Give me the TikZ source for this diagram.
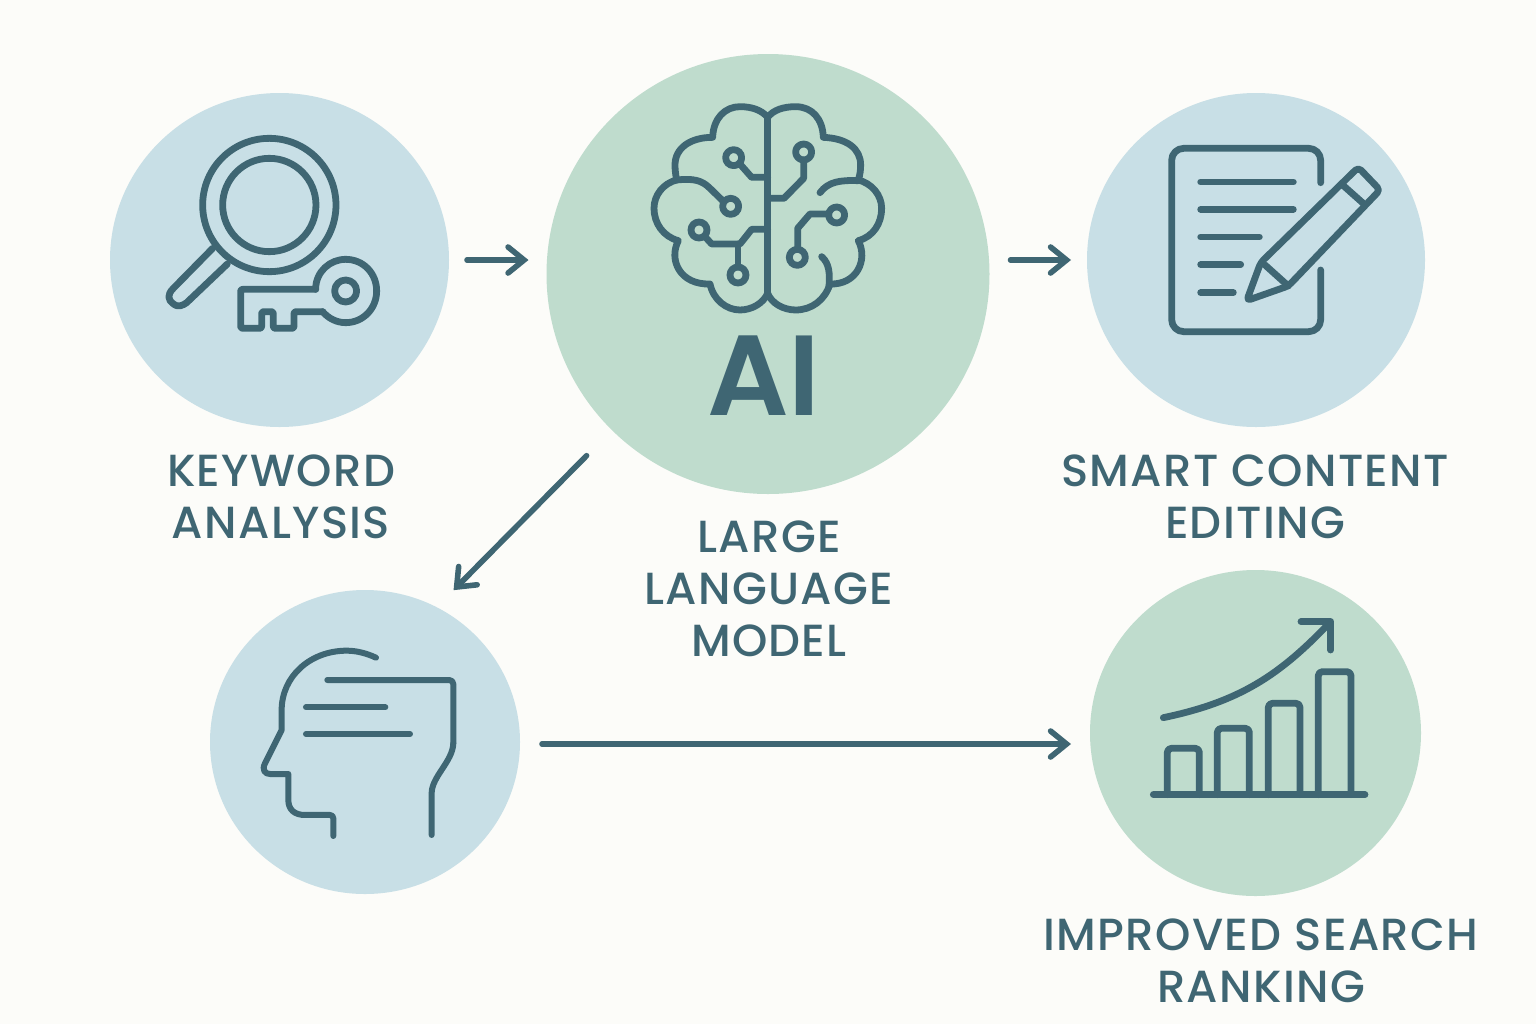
\documentclass[tikz,border=0pt]{standalone}
\usepackage{fontspec}
\usetikzlibrary{shapes.geometric,arrows.meta}
\newfontfamily\lab[LetterSpace=3]{Poppins Medium}
\newfontfamily\aifont{Poppins SemiBold}
\definecolor{ink}{HTML}{3F6673}
\definecolor{bluec}{HTML}{C8DFE6}
\definecolor{greenc}{HTML}{BFDCCD}
\definecolor{paper}{HTML}{FCFCF9}
\tikzset{
  disc/.style={ellipse,inner sep=0pt,outer sep=0pt},
  bluedisc/.style={disc,fill=bluec},
  greendisc/.style={disc,fill=greenc},
  icon/.style={draw=ink,line width=3.4pt,line cap=round,line join=round},
  thin icon/.style={icon,line width=3pt},
  label/.style={text=ink,align=center,inner sep=0pt,font=\lab\fontsize{22.5}{26}\selectfont},
  flow/.style={draw=ink,line width=2.8pt,line cap=round,-{Straight Barb[length=8pt,width=13pt,line cap=round]}}
}
\begin{document}
\begin{tikzpicture}[x=0.5pt,y=-0.5pt]
\useasboundingbox (0,0) rectangle (1536,1024);
\fill[paper] (0,0) rectangle (1536,1024);

\node[bluedisc,minimum width=169.5pt,minimum height=167pt] (kw) at (279.5,260) {};
\node[greendisc,minimum width=221.5pt,minimum height=220pt] (ai) at (768,274) {};
\node[bluedisc,minimum width=169pt,minimum height=167pt] (doc) at (1256,260) {};
\node[bluedisc,minimum width=155pt,minimum height=152pt] (head) at (365,742) {};
\node[greendisc,minimum width=165.5pt,minimum height=163pt] (chart) at (1255.5,733) {};

\node[label] (kwl) at (281,497) {KEYWORD\\ANALYSIS};
\node[label] (ail) at (769,589) {LARGE\\LANGUAGE\\MODEL};
\node[label] (docl) at (1255,497) {SMART CONTENT\\EDITING};
\node[label] (chl) at (1261,961) {IMPROVED SEARCH\\RANKING};
\node[text=ink,inner sep=0pt,font=\aifont\fontsize{57}{57}\selectfont] (ait) at (764,376) {AI};

\draw[flow,shorten <=9pt,shorten >=9pt] (kw.east) -- (ai.west |- kw.east);
\draw[flow,shorten <=10.5pt,shorten >=8pt] (ai.east |- doc.west) -- (doc.west);
\draw[flow,shorten <=18pt,shorten >=12pt] (ai.225.5) -- (head.62);
\draw[flow,shorten <=11pt,shorten >=9.5pt] ([yshift=-1pt]head.east) -- ([yshift=-1pt]head.east -| chart.west);

% magnifier and key
\begin{scope}[shift={(150,120)},scale=0.3333]
\draw[icon] (358,255) circle [radius=200];
\draw[icon] (358,255) circle [radius=140];
\draw[icon] (188,385) -- (70,505) .. controls (50,525) and (55,540) .. (68,550) .. controls (85,565) and (100,555) .. (110,548) -- (232,432);
\draw[icon,rounded corners=1pt] (497,508) -- (272,508) -- (272,625) -- (335,625) -- (335,575) -- (370,575) -- (370,625) -- (432,625) -- (432,575) -- (518,575);
\draw[icon] (497,508) .. controls (497,455) and (540,418) .. (587,418) .. controls (640,418) and (680,460) .. (680,513) .. controls (680,565) and (640,608) .. (587,608) .. controls (560,608) and (535,595) .. (518,575);
\draw[icon] (587,513) circle [radius=33];
\end{scope}

% brain
\begin{scope}[shift={(630,90)},scale=0.3333]
\draw[icon] (413,82) -- (413,610);
\draw[icon] (413,82) .. controls (395,60) and (365,50) .. (330,50) .. controls (285,50) and (250,85) .. (248,142)
  .. controls (180,142) and (135,175) .. (135,225) .. controls (135,240) and (137,255) .. (140,270)
  .. controls (100,280) and (72,315) .. (72,355) .. controls (72,400) and (100,440) .. (145,452)
  .. controls (115,510) and (150,585) .. (240,582) .. controls (250,630) and (290,660) .. (330,660) .. controls (365,660) and (400,640) .. (413,610);
\draw[icon] (413,82) .. controls (430,60) and (460,50) .. (497,50) .. controls (545,50) and (578,85) .. (580,142)
  .. controls (650,145) and (692,175) .. (692,225) .. controls (692,240) and (690,255) .. (685,270)
  .. controls (725,280) and (755,315) .. (755,355) .. controls (755,400) and (730,440) .. (685,452)
  .. controls (715,510) and (680,585) .. (600,582) .. controls (585,630) and (545,660) .. (497,660) .. controls (460,660) and (425,640) .. (413,610);
\draw[icon] (140,270) .. controls (190,265) and (215,270) .. (240,295) -- (278,332);
\draw[icon] (570,308) .. controls (595,275) and (630,270) .. (685,272);
\draw[icon] (575,500) .. controls (598,520) and (600,550) .. (597,590);
\foreach \cx/\cy in {311/203,302/349,207/420,324/555,521/186,620/375,502/502}
  \draw[icon] (\cx,\cy) circle [radius=24];
\draw[icon] (328,220) -- (365,262) -- (413,262);
\draw[icon] (225,440) -- (245,462) -- (330,462) -- (365,418) -- (413,418);
\draw[icon] (324,462) -- (324,531);
\draw[icon] (521,210) -- (521,265) -- (462,325) -- (413,325);
\draw[icon] (596,372) -- (540,372) -- (503,415) -- (503,478);
\end{scope}

% document and pencil
\begin{scope}[shift={(1150,130)},scale=0.3333]
\draw[icon,rounded corners=6pt] (512,158) -- (512,55) -- (65,55) -- (65,605) -- (512,605) -- (512,420);
\draw[icon] (152,156) -- (430,156);
\draw[icon] (152,238) -- (430,238);
\draw[icon] (152,321) -- (328,321);
\draw[icon] (152,404) -- (272,404);
\draw[icon] (152,488) -- (250,488);
\draw[icon,rounded corners=2pt] (290,512) -- (332,398) -- (625,112) -- (690,180) -- (415,468) -- cycle;
\draw[icon] (345,405) -- (415,468);
\draw[icon] (578,165) -- (642,222);
\end{scope}

% head
\begin{scope}[shift={(240,630)},scale=0.3333]
\draw[thin icon] (408,83) .. controls (380,70) and (350,62) .. (320,62) .. controls (210,62) and (125,140) .. (125,240) -- (125,300) -- (75,400) .. controls (65,420) and (75,432) .. (90,432) -- (145,432) -- (145,510) .. controls (145,540) and (165,555) .. (195,555) -- (270,555) .. controls (276,555) and (280,559) .. (280,565) -- (280,618);
\draw[thin icon,rounded corners=2pt] (262,150) -- (640,150) -- (640,340);
\draw[thin icon] (640,340) .. controls (638,395) and (575,440) .. (575,490) -- (575,615);
\draw[thin icon] (198,232) -- (436,232);
\draw[thin icon] (198,312) -- (510,312);
\end{scope}

% chart
\begin{scope}[shift={(1140,600)},scale=0.3333]
\draw[icon] (40,584) -- (675,584);
\draw[icon,rounded corners=2pt] (82,584) -- (82,445) -- (178,445) -- (178,584);
\draw[icon,rounded corners=2pt] (232,584) -- (232,385) -- (328,385) -- (328,584);
\draw[icon,rounded corners=2pt] (385,584) -- (385,310) -- (480,310) -- (480,584);
\draw[icon,rounded corners=2pt] (535,584) -- (535,215) -- (633,215) -- (633,584);
\draw[icon] (70,353) .. controls (300,305) and (420,225) .. (570,67);
\draw[icon] (483,65) -- (572,65) -- (572,150);
\end{scope}
\end{tikzpicture}
\end{document}
